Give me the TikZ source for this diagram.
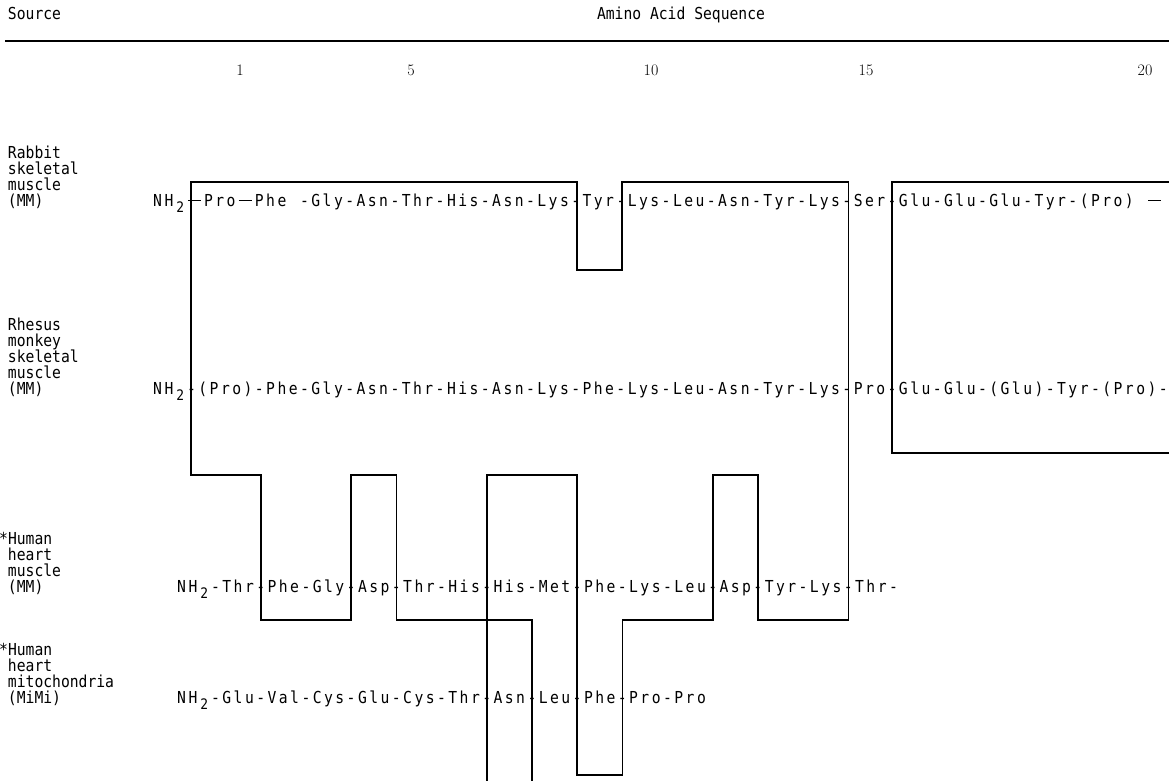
\documentclass[tikz,border=0pt]{standalone}
\usepackage{fontspec}
% typewriter-style face: natural spacing for the labels, fixed pitch for the sequences
\newfontfamily\typew{DejaVu Sans Mono}[FakeStretch=0.89]
\newlength\cellw
\setlength\cellw{11.3pt}
\ExplSyntaxOn
\NewDocumentCommand\cells{m}{\tl_map_inline:nn{#1}{\makebox[\cellw][c]{##1}}}
\ExplSyntaxOff
\newcommand\nhtwo{\cells{NH}\makebox[\cellw][c]{\raisebox{-6pt}{\fontsize{14.5}{14.5}\selectfont 2}}}
% long dash spanning one and a half cells
\newcommand\emd{\makebox[1.5\cellw][c]{\rule[5.2pt]{13pt}{1.2pt}}}
% one line of the source column: name, x, centre y, text
\newcommand\lab[4]{\node[labtext] (#1) at (#2,{#3+6}) {#4};}

\begin{document}
\begin{tikzpicture}[x=1pt,y=-1pt,
  every node/.style={inner sep=0pt,outer sep=0pt},
  seqtext/.style={anchor=base west,font=\typew\fontsize{16.5}{16}\selectfont},
  labtext/.style={anchor=base west,font=\typew\fontsize{16.5}{16}\selectfont},
  numtext/.style={font=\fontsize{16}{18}\selectfont},
  bond/.style={line width=1.5pt,line join=miter},
  headrule/.style={line width=1.5pt}]
\useasboundingbox (0,0) rectangle (1169,781);
\fill[white] (0,0) rectangle (1169,781);

% ---- header ----
\lab{hsrc}{8}{14}{Source}
\lab{haas}{597}{14}{Amino Acid Sequence}
\coordinate (ruleL) at (5,41);
\coordinate (ruleR) at (1169,41);
\draw[headrule] (ruleL) -- (ruleR);
\node[numtext] (n1)  at (240,70) {1};
\node[numtext] (n5)  at (411,70) {5};
\node[numtext] (n10) at (651,70) {10};
\node[numtext] (n15) at (866,70) {15};
\node[numtext] (n20) at (1145,70) {20};

% ---- levels of the connecting lines ----
\coordinate (top)  at (0,182);
\coordinate (dip)  at (0,270);
\coordinate (rb)   at (0,453);
\coordinate (mid)  at (0,475);
\coordinate (low)  at (0,620);
\coordinate (deep) at (0,775);
\coordinate (cut)  at (0,781);

% ---- break points between residues ----
\coordinate (r1-3)  at (191,200);
\coordinate (r1-37) at (577,200);
\coordinate (r1-41) at (622,200);
\coordinate (r1-65) at (892,200);
\foreach \c in {7,15,19,27,35,47,51,59}
  \coordinate (r3-\c) at ({176+(\c+0.5)*11.3},586);
\foreach \c in {27,31,35,39}
  \coordinate (r4-\c) at ({176+(\c+0.5)*11.3},697);
\coordinate (rt) at (1169,182);
\coordinate (rbr) at (1169,453);

% ---- homology lines ----
\draw[bond] (r4-27 |- cut) -- (r4-27 |- mid) -- (r3-35 |- mid) -- (r4-35 |- deep)
  -- (r4-39 |- deep) -- (r4-39 |- low) -- (r3-47 |- low) -- (r3-47 |- mid)
  -- (r3-51 |- mid) -- (r3-51 |- low) -- (r3-59 |- low) -- (r3-59 |- top)
  -- (r1-41 |- top) -- (r1-41 |- dip) -- (r1-37 |- dip) -- (r1-37 |- top)
  -- (r1-3 |- top) -- (r1-3 |- mid) -- (r3-7 |- mid) -- (r3-7 |- low)
  -- (r3-15 |- low) -- (r3-15 |- mid) -- (r3-19 |- mid) -- (r3-19 |- low)
  -- (r4-31 |- low) -- (r4-31 |- cut);
\draw[bond] (rt) -- (r1-65 |- top) -- (r1-65 |- rb) -- (rbr);

% ---- rabbit skeletal muscle ----
\lab{r1a}{8}{152}{Rabbit}
\lab{r1b}{8}{168}{skeletal}
\lab{r1c}{8}{184}{muscle}
\lab{r1d}{8}{200}{(MM)}
\node[seqtext] (seq1) at (152,206) {\nhtwo\emd\cells{Pro}\emd\cells{Phe~-Gly-Asn-Thr-His-Asn-Lys-Tyr-Lys-Leu-Asn-Tyr-Lys-Ser-Glu-Glu-Glu-Tyr-(Pro)~}\emd};

% ---- rhesus monkey skeletal muscle ----
\lab{r2a}{8}{324}{Rhesus}
\lab{r2b}{8}{340}{monkey}
\lab{r2c}{8}{356}{skeletal}
\lab{r2d}{8}{372}{muscle}
\lab{r2e}{8}{388}{(MM)}
\node[seqtext] (seq2) at (152,394) {\nhtwo\cells{-(Pro)-Phe-Gly-Asn-Thr-His-Asn-Lys-Phe-Lys-Leu-Asn-Tyr-Lys-Pro-Glu-Glu-(Glu)-Tyr-(Pro)-}};

% ---- human heart muscle ----
\lab{r3a}{-0.8}{538}{*Human}
\lab{r3b}{8}{554}{heart}
\lab{r3c}{8}{570}{muscle}
\lab{r3d}{8}{586}{(MM)}
\node[seqtext] (seq3) at (176,592) {\nhtwo\cells{-Thr-Phe-Gly-Asp-Thr-His-His-Met-Phe-Lys-Leu-Asp-Tyr-Lys-Thr-}};

% ---- human heart mitochondria ----
\lab{r4a}{-0.8}{649}{*Human}
\lab{r4b}{8}{665}{heart}
\lab{r4c}{8}{681}{mitochondria}
\lab{r4d}{8}{697}{(MiMi)}
\node[seqtext] (seq4) at (176,703) {\nhtwo\cells{-Glu-Val-Cys-Glu-Cys-Thr-Asn-Leu-Phe-Pro-Pro}};
\end{tikzpicture}
\end{document}
